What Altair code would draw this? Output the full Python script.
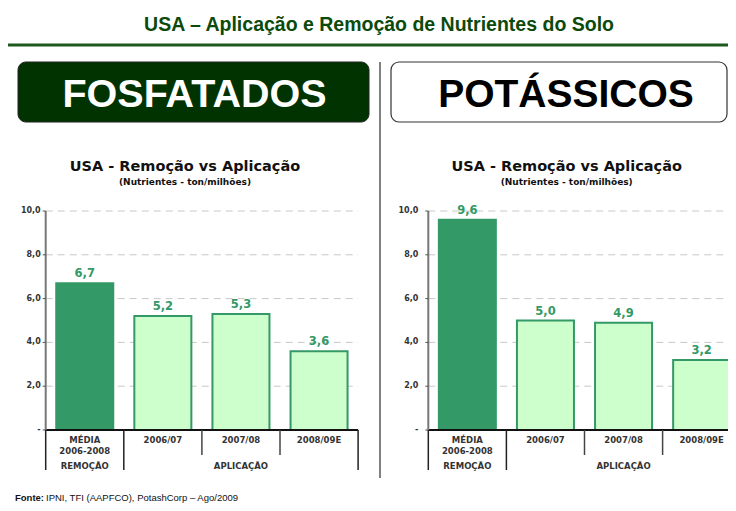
import altair as alt
import pandas as pd

# ---------------- data ----------------
categories = ["MÉDIA\n2006-2008", "2006/07", "2007/08", "2008/09E"]
groups = ["REMOÇÃO", "APLICAÇÃO", "APLICAÇÃO", "APLICAÇÃO"]
fosfatados = [6.7, 5.2, 5.3, 3.6]
potassicos = [9.6, 5.0, 4.9, 3.2]
y_ticks = [0, 2, 4, 6, 8, 10]
y_tick_labels = ["-", "2,0", "4,0", "6,0", "8,0", "10,0"]

header_title = "USA – Aplicação e Remoção de Nutrientes do Solo"
panel_titles = ["FOSFATADOS", "POTÁSSICOS"]
chart_title = "USA - Remoção vs Aplicação"
chart_subtitle = "(Nutrientes - ton/milhões)"
source_label = "Fonte:"
source_text = "IPNI, TFI (AAPFCO), PotashCorp – Ago/2009"

# ---------------- styles ----------------
DARK = "#339966"
LIGHT = "#ccffcc"
HEAD_GREEN = "#0b4a0b"
BOX_GREEN = "#003300"
VERDANA = "DejaVu Sans"
ARIAL = "Liberation Sans"
TXT = "#333333"

W, H = 720, 495
Y_RANGE = [422, 203]
PANEL_W = 312.4

n = len(categories)
ticks_df = pd.DataFrame({"v": y_ticks, "lbl": y_tick_labels, "x0": 0, "x1": n})
grid_df = ticks_df[ticks_df.v > 0]
zero_df = ticks_df[ticks_df.v == 0]
axis_df = pd.DataFrame({"x": [0], "y0": [min(y_ticks)], "y1": [max(y_ticks)]})

# group boundaries and centres derived from the group list
bounds_full, bounds_short = [0], []
for i in range(1, n):
    (bounds_full if groups[i] != groups[i - 1] else bounds_short).append(i)
bounds_full.append(n)
group_names = list(dict.fromkeys(groups))
group_df = pd.DataFrame({
    "g": group_names,
    "pos": [sum(i for i, g in enumerate(groups) if g == name) / groups.count(name) + 0.5
            for name in group_names],
})

one = pd.DataFrame({"a": [0]})


def deco_text(text, x, y, size, color, font=ARIAL, weight="bold", align="center", baseline="middle"):
    return alt.Chart(one).mark_text(
        font=font, fontSize=size, fontWeight=weight, color=color, align=align, baseline=baseline
    ).encode(x=alt.value(x), y=alt.value(y), text=alt.value(text))


def panel(values, px0, gap, cx):
    px1 = px0 + PANEL_W
    df = pd.DataFrame({"cat": categories, "group": groups, "value": values})
    xb_scale = alt.Scale(domain=categories, range=[px0, px1], paddingInner=0.27, paddingOuter=0.135)
    xq_scale = alt.Scale(domain=[0, n], range=[px0, px1], nice=False, zero=False)
    ys = alt.Scale(domain=[min(y_ticks), max(y_ticks)], range=Y_RANGE, nice=False, zero=False)
    xb = alt.X("cat:N", scale=xb_scale, axis=None, sort=categories)
    layers = []
    # gridlines
    layers.append(alt.Chart(grid_df).mark_rule(color="#c8c8c8", strokeDash=[7, 5], strokeWidth=1).encode(
        x=alt.X("x0:Q", scale=xq_scale, axis=None), x2="x1:Q", y=alt.Y("v:Q", scale=ys, axis=None)))
    # bars
    layers.append(alt.Chart(df).mark_bar(stroke=DARK, strokeWidth=2).encode(
        x=xb, y=alt.Y("value:Q", scale=ys, axis=None),
        color=alt.Color("group:N", scale=alt.Scale(domain=["REMOÇÃO", "APLICAÇÃO"], range=[DARK, LIGHT]), legend=None)))
    # value labels
    layers.append(alt.Chart(df).transform_calculate(
        lbl="replace(format(datum.value, '.1f'), '.', ',')"
    ).mark_text(dy=-4, baseline="bottom", font=VERDANA, fontWeight="bold", fontSize=11.5, color=DARK).encode(
        x=xb, y=alt.Y("value:Q", scale=ys, axis=None), text="lbl:N"))
    # zero line
    layers.append(alt.Chart(zero_df).mark_rule(color="#111111", strokeWidth=2).encode(
        x=alt.X("x0:Q", scale=xq_scale, axis=None), x2="x1:Q", y=alt.Y("v:Q", scale=ys, axis=None)))
    # y axis line
    layers.append(alt.Chart(axis_df).mark_rule(color="#777777", strokeWidth=2).encode(
        x=alt.X("x:Q", scale=xq_scale, axis=None), y=alt.Y("y0:Q", scale=ys, axis=None), y2="y1:Q"))
    # y ticks and labels
    layers.append(alt.Chart(ticks_df).mark_rule(color="#555555", strokeWidth=1).encode(
        x=alt.value(px0 - 3), x2=alt.value(px0), y=alt.Y("v:Q", scale=ys, axis=None)))
    layers.append(alt.Chart(ticks_df).mark_text(
        align="right", baseline="middle", font=VERDANA, fontWeight="bold", fontSize=8, color=TXT
    ).encode(x=alt.value(px0 - gap), y=alt.Y("v:Q", scale=ys, axis=None), text="lbl:N"))
    # separators below the axis
    layers.append(alt.Chart(pd.DataFrame({"b": bounds_full})).mark_rule(color="#222222", strokeWidth=1.5).encode(
        x=alt.X("b:Q", scale=xq_scale, axis=None), y=alt.value(Y_RANGE[0]), y2=alt.value(462)))
    layers.append(alt.Chart(pd.DataFrame({"b": bounds_short})).mark_rule(color="#444444", strokeWidth=1.5).encode(
        x=alt.X("b:Q", scale=xq_scale, axis=None), y=alt.value(Y_RANGE[0]), y2=alt.value(447)))
    # category labels
    layers.append(alt.Chart(df).mark_text(
        lineBreak="\n", baseline="top", lineHeight=11, font=VERDANA, fontWeight="bold", fontSize=8.5, color=TXT
    ).encode(x=xb, y=alt.value(428), text="cat:N"))
    # group labels
    layers.append(alt.Chart(group_df).mark_text(
        baseline="top", font=VERDANA, fontWeight="bold", fontSize=8.5, color=TXT
    ).encode(x=alt.X("pos:Q", scale=xq_scale, axis=None), y=alt.value(454), text="g:N"))
    # titles
    layers.append(deco_text(chart_title, cx, 159, 14.5, "#111111", font=VERDANA))
    layers.append(deco_text(chart_subtitle, cx, 174, 9, "#111111", font=VERDANA))
    return layers


layers = []
# header
layers.append(deco_text(header_title, 371, 17, 19.5, HEAD_GREEN))
layers.append(alt.Chart(one).mark_rule(color="#1e5a1e", strokeWidth=3).encode(
    x=alt.value(0), x2=alt.value(W), y=alt.value(37)))
# panel boxes
layers.append(alt.Chart(one).mark_rect(cornerRadius=8, fill=BOX_GREEN, stroke="#222222", strokeWidth=1).encode(
    x=alt.value(10), x2=alt.value(361), y=alt.value(54), y2=alt.value(114)))
layers.append(alt.Chart(one).mark_rect(cornerRadius=8, fill="white", stroke="#333333", strokeWidth=1.2).encode(
    x=alt.value(383), x2=alt.value(719), y=alt.value(54), y2=alt.value(114)))
layers.append(deco_text(panel_titles[0], 186.5, 99, 39.5, "white", baseline="alphabetic"))
layers.append(deco_text(panel_titles[1], 558, 99, 39, "black", baseline="alphabetic"))
# vertical separator
layers.append(alt.Chart(one).mark_rule(color="#808080", strokeWidth=2).encode(
    x=alt.value(372), y=alt.value(54), y2=alt.value(470)))

layers += panel(fosfatados, 37.7, 5, 177)
layers += panel(potassicos, 420.3, 10, 558.7)

# footer
layers.append(deco_text(source_label, 7, 490, 9.5, "#111111", align="left"))
layers.append(deco_text(source_text, 38, 490, 9.5, "#111111", weight="normal", align="left"))

chart = alt.layer(*layers).resolve_scale(x="independent", y="independent", color="independent").properties(
    width=W, height=H, autosize=alt.AutoSizeParams(type="none"), padding=0
).configure_view(stroke=None)

chart.save("out.html", embed_options={"renderer": "svg", "actions": False})
